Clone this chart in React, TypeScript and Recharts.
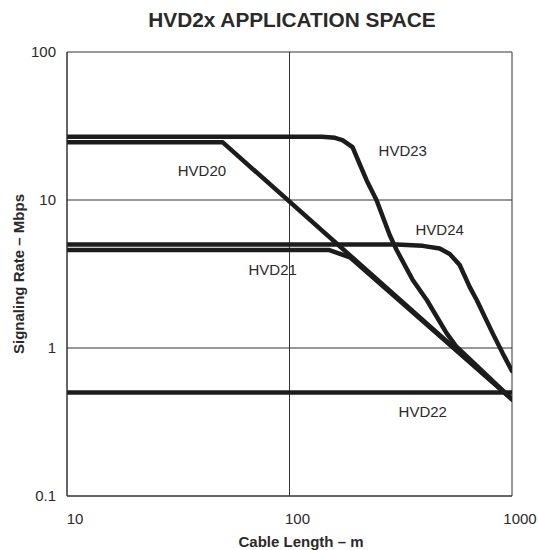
import { LineChart, Line, XAxis, YAxis, CartesianGrid, ReferenceDot } from 'recharts';

// cable length (m) / signaling rate (Mbps)
const hvd20Len = [10, 50, 1000];
const hvd20Rate = [24.6, 24.6, 0.45];

const hvd21Len = [10, 150, 187, 1000];
const hvd21Rate = [4.6, 4.6, 4.1, 0.45];

const hvd22Len = [10, 1000];
const hvd22Rate = [0.5, 0.5];

const hvd23Len = [10, 140, 160, 173, 192, 205, 222, 246, 282, 303, 358, 414, 508, 563, 1000];
const hvd23Rate = [26.8, 26.8, 26.3, 25.4, 22.8, 18.0, 13.6, 10, 5.8, 4.59, 2.88, 2.11, 1.26, 1.02, 0.45];

const hvd24Len = [10, 303, 397, 473, 525, 582, 646, 694, 818, 908, 1000];
const hvd24Rate = [5.0, 5.0, 4.9, 4.7, 4.32, 3.64, 2.58, 2.11, 1.26, 0.92, 0.7];

const xTicks = [10, 100, 1000];
const yTicks = [0.1, 1, 10, 100];

const seriesLabels = [
  { name: 'HVD20', len: 40.4, rate: 15.8 },
  { name: 'HVD21', len: 84, rate: 3.37 },
  { name: 'HVD22', len: 397, rate: 0.372 },
  { name: 'HVD23', len: 323, rate: 21.4 },
  { name: 'HVD24', len: 473, rate: 6.34 },
];

const toPoints = (xs: number[], ys: number[]) => xs.map((x, i) => ({ x, y: ys[i] }));

const series = [
  { name: 'HVD20', data: toPoints(hvd20Len, hvd20Rate) },
  { name: 'HVD21', data: toPoints(hvd21Len, hvd21Rate) },
  { name: 'HVD22', data: toPoints(hvd22Len, hvd22Rate) },
  { name: 'HVD23', data: toPoints(hvd23Len, hvd23Rate) },
  { name: 'HVD24', data: toPoints(hvd24Len, hvd24Rate) },
];

const FONT = '"Liberation Sans", Arial, Helvetica, sans-serif';
const INK = '#1c1c1c';
const TEXT = '#2a2a2a';

export default function App() {
  return (
    <div style={{ position: 'absolute', left: 0, top: 0, width: 538, height: 550, background: '#fff', fontFamily: FONT }}>
      <LineChart width={538} height={550} margin={{ top: 52, right: 26, bottom: 24, left: 17 }}>
        <CartesianGrid stroke="#333" strokeWidth={1} />
        <XAxis
          type="number"
          dataKey="x"
          scale="log"
          domain={[10, 1000]}
          ticks={xTicks}
          allowDataOverflow
          height={30}
          tickSize={0}
          tickMargin={17}
          axisLine={{ stroke: '#333' }}
          tick={{ fill: TEXT, fontSize: 15, fontFamily: FONT, dx: 8 }}
        />
        <YAxis
          type="number"
          dataKey="y"
          scale="log"
          domain={[0.1, 100]}
          ticks={yTicks}
          allowDataOverflow
          width={50}
          tickSize={0}
          tickMargin={11}
          axisLine={{ stroke: '#333' }}
          tick={{ fill: TEXT, fontSize: 15, fontFamily: FONT }}
        />
        {series.map((s) => (
          <Line
            key={s.name}
            data={s.data}
            dataKey="y"
            type="linear"
            stroke={INK}
            strokeWidth={4.5}
            strokeLinejoin="round"
            strokeLinecap="round"
            dot={false}
            activeDot={false}
            isAnimationActive={false}
          />
        ))}
        {seriesLabels.map((l) => (
          <ReferenceDot
            key={l.name}
            x={l.len}
            y={l.rate}
            r={0}
            stroke="none"
            fill="none"
            label={{ value: l.name, position: 'center', fill: TEXT, fontSize: 15, fontFamily: FONT }}
          />
        ))}
      </LineChart>
      <svg width={538} height={550} style={{ position: 'absolute', left: 0, top: 0, pointerEvents: 'none' }}>
        <text x={292} y={27} textAnchor="middle" fontSize={20.8} fontWeight="bold" fill={TEXT} fontFamily={FONT}>
          HVD2x APPLICATION SPACE
        </text>
        <text x={301} y={547} textAnchor="middle" fontSize={15} fontWeight="bold" fill={TEXT} fontFamily={FONT}>
          Cable Length – m
        </text>
        <text
          x={0}
          y={0}
          transform="translate(24,274) rotate(-90)"
          textAnchor="middle"
          fontSize={15}
          fontWeight="bold"
          fill={TEXT}
          fontFamily={FONT}
        >
          Signaling Rate – Mbps
        </text>
      </svg>
    </div>
  );
}
